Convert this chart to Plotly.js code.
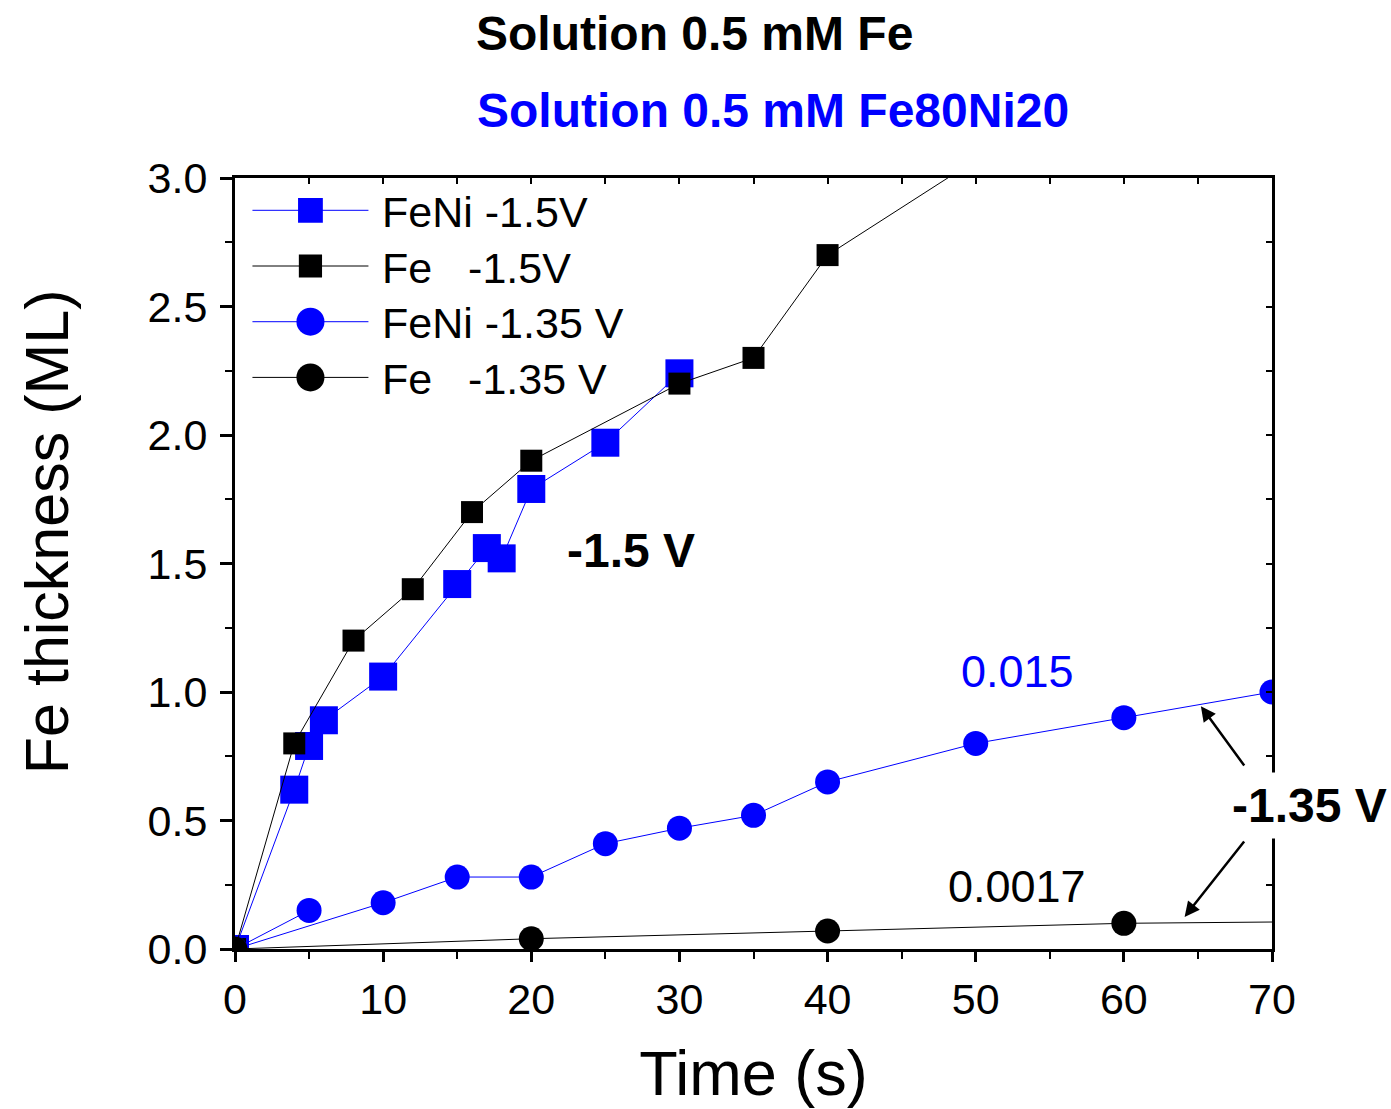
<!DOCTYPE html>
<html>
<head>
<meta charset="utf-8">
<script src="https://cdn.plot.ly/plotly-3.0.1.min.js"></script>
<style>html,body{margin:0;padding:0;background:#fff;} #chart{width:1391px;height:1109px;}</style>
</head>
<body>
<div id="chart"></div>
<script>
// ---- data ----
const feni15_t = [0, 4, 5, 6, 10, 15, 17, 18, 20, 25, 30];
const feni15_y = [0, 0.62, 0.79, 0.89, 1.06, 1.42, 1.56, 1.52, 1.79, 1.97, 2.24];

const fe15_t = [0, 4, 8, 12, 16, 20, 30, 35, 40, 50];
const fe15_y = [0, 0.80, 1.20, 1.40, 1.70, 1.90, 2.20, 2.30, 2.70, 3.07];

const feni135_t = [5, 0, 10, 15, 20, 25, 30, 35, 40, 50, 60, 70];
const feni135_y = [0.15, 0, 0.18, 0.28, 0.28, 0.41, 0.47, 0.52, 0.65, 0.80, 0.90, 1.00];

const fe135_t = [0, 20, 40, 60, 80];
const fe135_y = [0, 0.04, 0.07, 0.10, 0.11];

const names = ['\u2009FeNi -1.5V', '\u2009Fe\u00A0\u00A0\u00A0-1.5V', '\u2009FeNi -1.35 V', '\u2009Fe\u00A0\u00A0\u00A0-1.35 V'];
const xTicks = [0, 10, 20, 30, 40, 50, 60, 70];

const BLUE = '#0000ff';
const FONT = '"Liberation Sans", Arial, sans-serif';

const traces = [
  {x: feni15_t, y: feni15_y, name: names[0], mode: 'lines+markers',
   line: {color: BLUE, width: 1}, marker: {symbol: 'square', size: 28, color: BLUE}},
  {x: fe15_t, y: fe15_y, name: names[1], mode: 'lines+markers',
   line: {color: '#000', width: 1}, marker: {symbol: 'square', size: 22, color: '#000'}},
  {x: feni135_t, y: feni135_y, name: names[2], mode: 'lines+markers',
   line: {color: BLUE, width: 1}, marker: {symbol: 'circle', size: 25, color: BLUE}},
  {x: fe135_t, y: fe135_y, name: names[3], mode: 'lines+markers',
   line: {color: '#000', width: 1}, marker: {symbol: 'circle', size: 25, color: '#000'}},
  // empty helper trace so the top/right frame axes (inside ticks) are drawn
  {x: [null], y: [null], xaxis: 'x2', yaxis: 'y2', mode: 'markers', showlegend: false, hoverinfo: 'skip'}
];

const axisCommon = {
  showgrid: false, zeroline: false, showline: true, linecolor: '#000', linewidth: 3, mirror: true,
  ticks: 'outside', ticklen: 12, tickwidth: 3, tickcolor: '#000',
  tickfont: {family: FONT, size: 43, color: '#000'}
};

const layout = {
  width: 1391, height: 1109,
  margin: {l: 235, r: 119, t: 178, b: 160},
  paper_bgcolor: '#fff', plot_bgcolor: '#fff',
  font: {family: FONT, color: '#000'},
  showlegend: true,
  legend: {x: 0.012, y: 0.995, xanchor: 'left', yanchor: 'top', bgcolor: 'rgba(0,0,0,0)',
           font: {family: FONT, size: 43, color: '#000'}, itemwidth: 116, tracegroupgap: 0},
  xaxis: Object.assign({}, axisCommon, {
    range: [0, 70], tickvals: xTicks, ticktext: xTicks.map(String), ticklen: 10,
    minor: {ticks: 'outside', ticklen: 7, tickwidth: 2, tickcolor: '#000', dtick: 5, tick0: 0},
    title: {text: 'Time (s)', font: {family: FONT, size: 63, color: '#000'}, standoff: 30}
  }),
  yaxis: Object.assign({}, axisCommon, {
    range: [0, 3], dtick: 0.5, tick0: 0, tickformat: '.1f', ticklabelstandoff: 4,
    minor: {ticks: 'outside', ticklen: 7, tickwidth: 2, tickcolor: '#000', dtick: 0.25, tick0: 0}
  }),
  xaxis2: {overlaying: 'x', side: 'top', range: [0, 70], showline: false,
    showgrid: false, zeroline: false, ticks: 'inside', ticklen: 6, tickwidth: 2, tickcolor: '#000',
    dtick: 5, tick0: 0, showticklabels: false},
  yaxis2: {overlaying: 'y', side: 'right', range: [0, 3], showline: false,
    showgrid: false, zeroline: false, ticks: 'inside', ticklen: 6, tickwidth: 2, tickcolor: '#000',
    dtick: 0.25, tick0: 0, showticklabels: false},
  annotations: [
    {text: '<b>Solution 0.5 mM Fe</b>', xref: 'paper', yref: 'paper', x: 0.443, y: 1.187,
     xanchor: 'center', yanchor: 'middle', showarrow: false, font: {family: FONT, size: 48, color: '#000'}},
    {text: '<b>Solution 0.5 mM Fe80Ni20</b>', xref: 'paper', yref: 'paper', x: 0.519, y: 1.088,
     xanchor: 'center', yanchor: 'middle', showarrow: false, font: {family: FONT, size: 48, color: BLUE}},
    {text: 'Fe thickness (ML)', xref: 'paper', yref: 'paper', x: -0.181, y: 0.541, textangle: -90,
     xanchor: 'center', yanchor: 'middle', showarrow: false, font: {family: FONT, size: 61, color: '#000'}},
    {text: '<b>-1.5 V</b>', xref: 'x', yref: 'y', x: 26.7, y: 1.55, xanchor: 'center', yanchor: 'middle',
     showarrow: false, font: {family: FONT, size: 48, color: '#000'}},
    {text: '0.015', xref: 'x', yref: 'y', x: 52.8, y: 1.08, xanchor: 'center', yanchor: 'middle',
     showarrow: false, font: {family: FONT, size: 45, color: BLUE}},
    {text: '0.0017', xref: 'x', yref: 'y', x: 52.8, y: 0.245, xanchor: 'center', yanchor: 'middle',
     showarrow: false, font: {family: FONT, size: 45, color: '#000'}},
    {text: '', xref: 'x', yref: 'y', axref: 'x', ayref: 'y', x: 65.2, y: 0.945, ax: 68.2, ay: 0.708,
     showarrow: true, arrowhead: 2, arrowsize: 1.2, arrowwidth: 2.5, arrowcolor: '#000'},
    {text: '', xref: 'x', yref: 'y', axref: 'x', ayref: 'y', x: 64.1, y: 0.125, ax: 68.2, ay: 0.424,
     showarrow: true, arrowhead: 2, arrowsize: 1.2, arrowwidth: 2.5, arrowcolor: '#000'},
    {text: '<b>-1.35 V</b>', xref: 'paper', yref: 'paper', x: 1.0366, y: 0.1855, xanchor: 'center', yanchor: 'middle',
     showarrow: false, bgcolor: '#fff', borderpad: 6, font: {family: FONT, size: 48, color: '#000'}}
  ]
};

Plotly.newPlot('chart', traces, layout, {staticPlot: true}).then(function (gd) {
  // enlarge legend symbols (Plotly caps legend marker size) and tighten row spacing
  const scales = [1.55, 1.45, 1.75, 1.75];
  const rowGap = 55.7;
  let y0 = null;
  gd.querySelectorAll('.legend .traces').forEach(function (g, i) {
    const tr = g.getAttribute('transform') || '';
    const m = tr.match(/translate\(\s*([-\d.]+)[ ,]+([-\d.]+)\s*\)/);
    if (m) {
      const x = parseFloat(m[1]);
      const y = parseFloat(m[2]);
      if (y0 === null) y0 = y - 6;
      g.setAttribute('transform', 'translate(' + x + ',' + (y0 + i * rowGap) + ')');
    }
    g.querySelectorAll('.legendpoints path.scatterpts').forEach(function (p) {
      const t = p.getAttribute('transform') || '';
      p.setAttribute('transform', t + ' scale(' + scales[i] + ')');
    });
  });
});
</script>
</body>
</html>
